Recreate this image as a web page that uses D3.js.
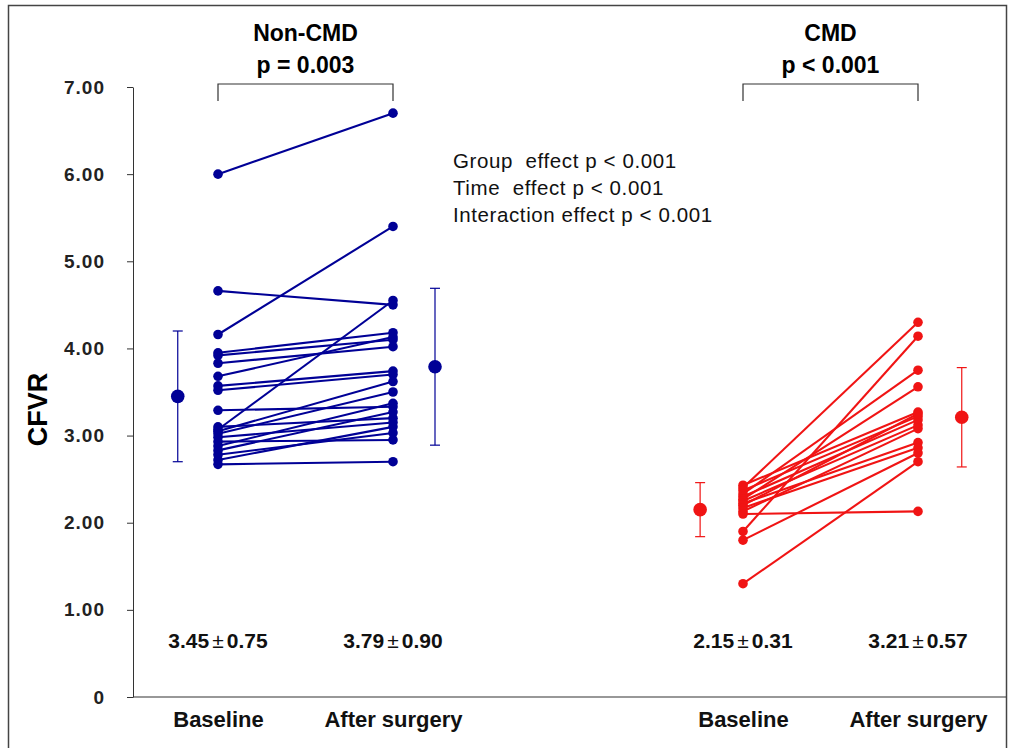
<!DOCTYPE html>
<html lang="en">
<head>
<meta charset="UTF-8">
<script src="https://d3js.org/d3.v7.min.js"></script>
<style>
  body { margin: 0; background: #fff; }
  svg { display: block; font-family: "Liberation Sans", Arial, sans-serif; }
</style>
</head>
<body>
<div id="container"></div>
<script>
// data
const timeLabels = ["Baseline", "After surgery", "Baseline", "After surgery"];
const slots = [0, 1, 3, 4];

const nonCmdBaseline = [6.00, 4.66, 4.16, 3.95, 3.92, 3.83, 3.68, 3.57, 3.52, 3.29, 3.10, 3.07, 3.05, 3.02, 2.98, 2.93, 2.88, 2.83, 2.78, 2.72, 2.67];
const nonCmdAfter    = [6.70, 4.50, 5.40, 4.18, 4.10, 4.02, 4.13, 3.74, 3.70, 3.33, 3.20, 4.55, 3.62, 3.50, 3.15, 2.95, 3.37, 3.27, 3.03, 3.10, 2.70];

const cmdBaseline = [2.43, 2.40, 2.37, 2.33, 2.30, 2.27, 2.25, 2.22, 2.20, 2.17, 2.13, 2.10, 1.90, 1.80, 1.30];
const cmdAfter    = [3.27, 4.30, 3.22, 3.75, 3.18, 3.56, 3.12, 2.92, 3.25, 2.86, 3.08, 2.13, 4.14, 2.80, 2.70];

const means = [3.45, 3.79, 2.15, 3.21];
const sds = [0.75, 0.90, 0.31, 0.57];
const yTicks = [0, 1, 2, 3, 4, 5, 6, 7];

const groupTitles = ["Non-CMD", "CMD"];
const groupP = ["p = 0.003", "p < 0.001"];
const effects = ["Group  effect p < 0.001", "Time  effect p < 0.001", "Interaction effect p < 0.001"];

const blue = "#000096";
const red = "#f01414";
const colors = [blue, blue, red, red];

const w = 1011, h = 748;
const svg = d3.select("#container").append("svg")
  .attr("width", w).attr("height", h);

// frame
svg.append("rect")
  .attr("x", 8.5).attr("y", 5.5).attr("width", 998).attr("height", 770)
  .attr("fill", "none").attr("stroke", "#444").attr("stroke-width", 1.5);

const x = d3.scaleLinear().domain([0, 4]).range([218, 918]);
const y = d3.scaleLinear().domain([0, 7]).range([697, 87]);
const meanOffset = [-0.23, 0.24, -0.245, 0.25];

// y axis
const yAxis = d3.axisLeft(y)
  .tickValues(yTicks)
  .tickFormat(d => d === 0 ? "0" : d.toFixed(2))
  .tickSize(6)
  .tickSizeOuter(0)
  .tickPadding(22);

const gy = svg.append("g")
  .attr("transform", "translate(133,0)")
  .call(yAxis);
gy.selectAll("text")
  .style("font-size", "19px")
  .style("font-weight", "bold")
  .style("letter-spacing", "1px")
  .attr("fill", "#222");
gy.selectAll("line, path").attr("stroke", "#333");

// x axis line
svg.append("line")
  .attr("x1", 133).attr("x2", 1006)
  .attr("y1", y(0)).attr("y2", y(0))
  .attr("stroke", "#333").attr("stroke-width", 1.2);

// category labels
const xAxis = d3.axisBottom(x)
  .tickValues(slots)
  .tickFormat((d, i) => timeLabels[i])
  .tickSize(0)
  .tickPadding(14);
const gx = svg.append("g")
  .attr("transform", "translate(0," + y(0) + ")")
  .call(xAxis);
gx.select(".domain").remove();
gx.selectAll("text")
  .style("font-size", "22px")
  .style("font-weight", "bold")
  .attr("fill", "#111");

// y axis title
svg.append("text")
  .attr("transform", "translate(47," + y(3.3) + ") rotate(-90)")
  .attr("text-anchor", "middle")
  .style("font-size", "27px")
  .style("font-weight", "bold")
  .text("CFVR");

// paired lines
function drawPairs(before, after, i0, i1, color) {
  const pairs = before.map((b, i) => ({ b: b, a: after[i] }));
  const g = svg.append("g");
  g.selectAll("line.pair")
    .data(pairs)
    .enter().append("line")
    .attr("x1", x(slots[i0])).attr("x2", x(slots[i1]))
    .attr("y1", d => y(d.b)).attr("y2", d => y(d.a))
    .attr("stroke", color).attr("stroke-width", 2.1);
  g.selectAll("circle.b")
    .data(before)
    .enter().append("circle")
    .attr("cx", x(slots[i0])).attr("cy", d => y(d)).attr("r", 4.8)
    .attr("fill", color);
  g.selectAll("circle.a")
    .data(after)
    .enter().append("circle")
    .attr("cx", x(slots[i1])).attr("cy", d => y(d)).attr("r", 4.8)
    .attr("fill", color);
}
drawPairs(nonCmdBaseline, nonCmdAfter, 0, 1, blue);
drawPairs(cmdBaseline, cmdAfter, 2, 3, red);

// mean +- sd
means.forEach((m, i) => {
  const cx = x(slots[i] + meanOffset[i]);
  const g = svg.append("g");
  g.append("line")
    .attr("x1", cx).attr("x2", cx)
    .attr("y1", y(m - sds[i])).attr("y2", y(m + sds[i]))
    .attr("stroke", colors[i]).attr("stroke-width", 1.2);
  [m - sds[i], m + sds[i]].forEach(v => {
    g.append("line")
      .attr("x1", cx - 5).attr("x2", cx + 5)
      .attr("y1", y(v)).attr("y2", y(v))
      .attr("stroke", colors[i]).attr("stroke-width", 1.2);
  });
  g.append("circle")
    .attr("cx", cx).attr("cy", y(m)).attr("r", 6.8)
    .attr("fill", colors[i]);

  // mean +- sd text
  const t = svg.append("text")
    .attr("x", x(slots[i]))
    .attr("y", 648)
    .attr("text-anchor", "middle")
    .style("font-size", "21px")
    .style("font-weight", "bold")
    .attr("fill", "#111");
  t.append("tspan").text(m.toFixed(2));
  t.append("tspan").attr("dx", 3).style("font-weight", "normal").text("\u00b1");
  t.append("tspan").attr("dx", 3).text(sds[i].toFixed(2));
});

// group titles and brackets
[[0, 1], [2, 3]].forEach((pair, gi) => {
  const xa = x(slots[pair[0]]), xb = x(slots[pair[1]]);
  const cx = (xa + xb) / 2;
  svg.append("text")
    .attr("x", cx).attr("y", 41)
    .attr("text-anchor", "middle")
    .style("font-size", "23px").style("font-weight", "bold")
    .text(groupTitles[gi]);
  svg.append("text")
    .attr("x", cx).attr("y", 73)
    .attr("text-anchor", "middle")
    .style("font-size", "23px").style("font-weight", "bold")
    .text(groupP[gi]);
  svg.append("path")
    .attr("d", "M" + xa + ",101V84H" + xb + "V101")
    .attr("fill", "none").attr("stroke", "#333").attr("stroke-width", 1.2);
});

// effects annotation
effects.forEach((t, i) => {
  svg.append("text")
    .attr("x", 453).attr("y", 168 + i * 27)
    .style("font-size", "20.5px")
    .style("letter-spacing", "0.6px")
    .style("white-space", "pre")
    .attr("fill", "#111")
    .text(t);
});
</script>
</body>
</html>
